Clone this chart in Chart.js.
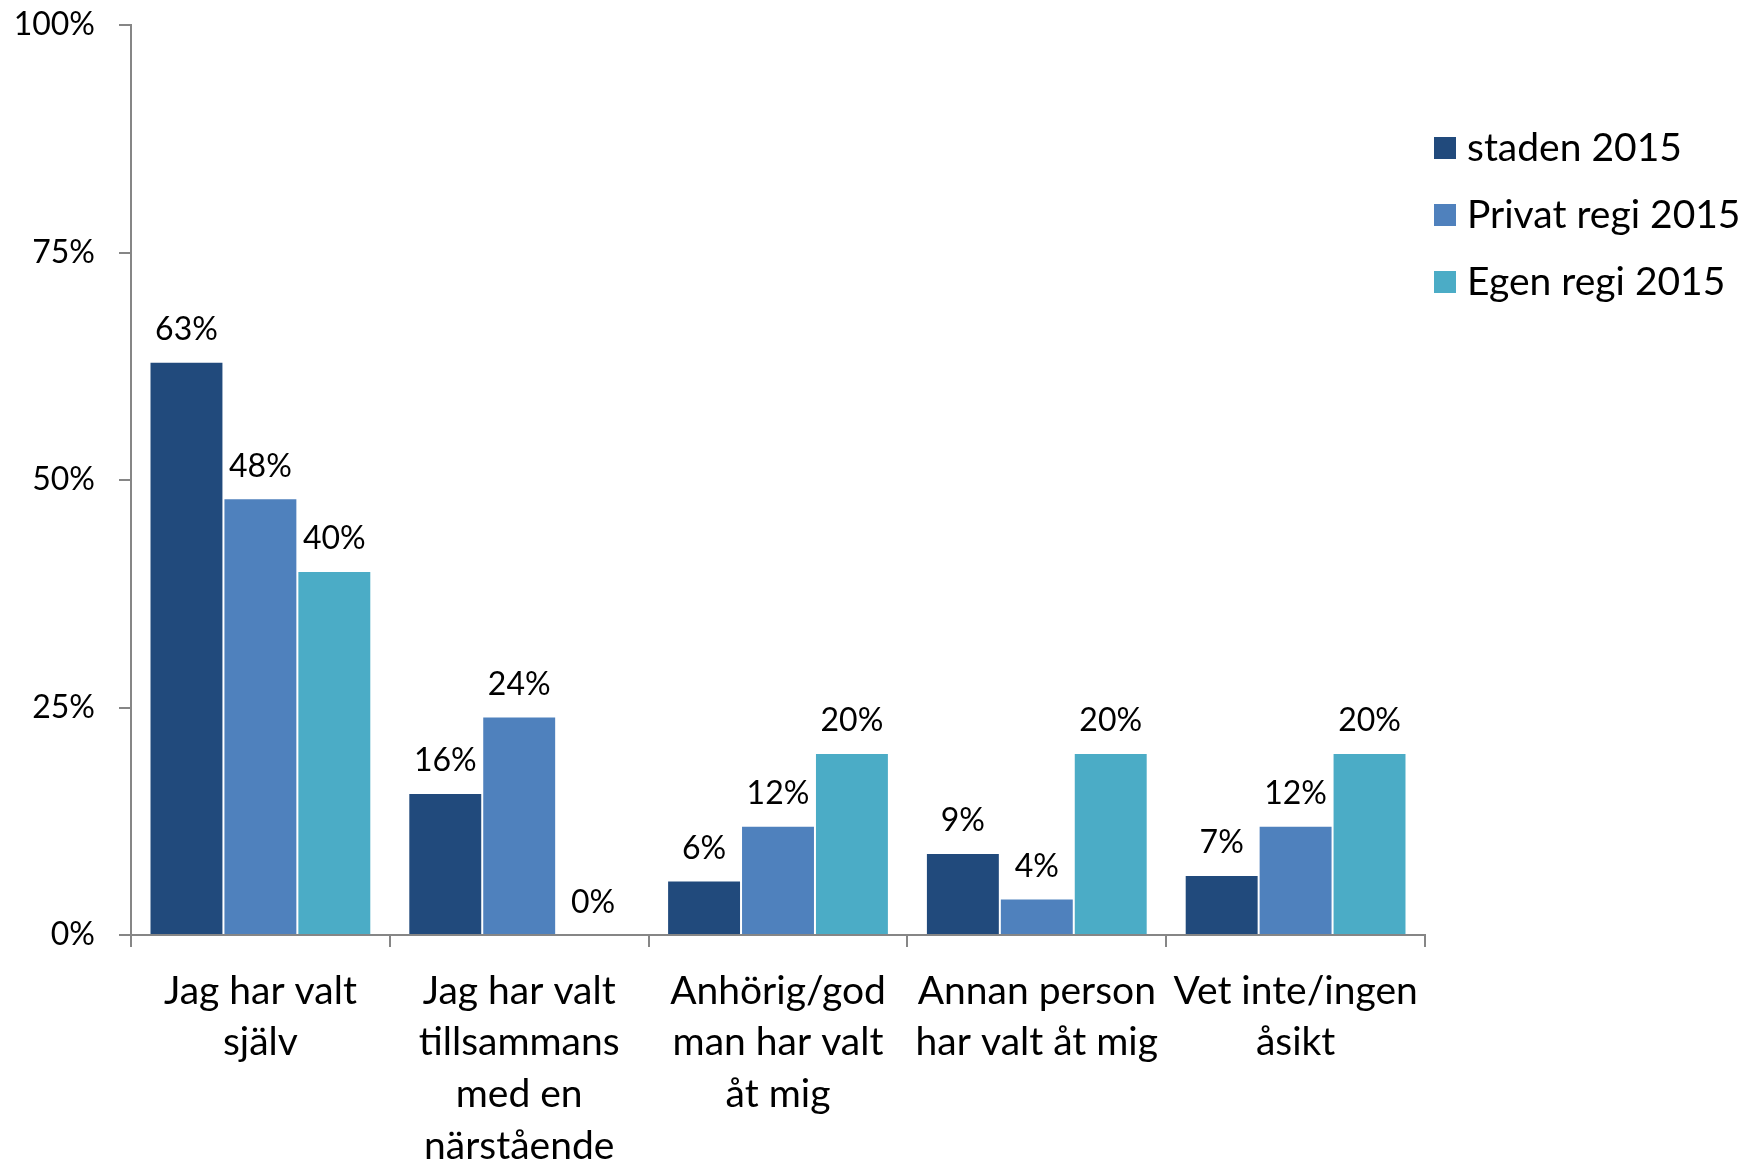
<!DOCTYPE html>
<html lang="sv">
<head>
    <meta charset="UTF-8">
    <title>Val av utförare 2015</title>
    <script src="https://cdnjs.cloudflare.com/ajax/libs/chart.js/4.4.1/chart.umd.min.js"></script>
    <style>
        html, body {
            margin: 0;
            padding: 0;
            background: #ffffff;
        }

        .canvas-container {
            position: relative;
            width: 1756px;
            height: 1164px;
        }
    </style>
</head>
<body>
    <div class="canvas-container">
        <canvas id="valChart"></canvas>
    </div>

    <script>
        // Kategorier (flerradiga etiketter under x-axeln)
        const categories = [
            ['Jag har valt', 'själv'],
            ['Jag har valt', 'tillsammans', 'med en', 'närstående'],
            ['Anhörig/god', 'man har valt', 'åt mig'],
            ['Annan person', 'har valt åt mig'],
            ['Vet inte/ingen', 'åsikt']
        ];

        const seriesNames = ['staden 2015', 'Privat regi 2015', 'Egen regi 2015'];

        // Andelar i procent
        const staden = [63, 15.6, 6, 9, 6.6];
        const privatRegi = [48, 24, 12, 4, 12];
        const egenRegi = [40, 0, 20, 20, 20];

        const yTicks = [0, 25, 50, 75, 100];

        const colors = ['#214a7c', '#4f81bd', '#4bacc6'];
        const FONT = 'Lato, sans-serif';
        const NUM_SIZE = 32;   // siffror: axel och stapeletiketter
        const TEXT_SIZE = 39;  // kategorier och förklaring

        // Procentetiketter ovanför staplarna
        const valueLabels = {
            id: 'valueLabels',
            afterDatasetsDraw(chart) {
                const ctx = chart.ctx;
                ctx.save();
                ctx.font = NUM_SIZE + 'px ' + FONT;
                ctx.fillStyle = '#000000';
                ctx.textAlign = 'center';
                ctx.textBaseline = 'middle';
                chart.data.datasets.forEach((ds, i) => {
                    const meta = chart.getDatasetMeta(i);
                    meta.data.forEach((bar, j) => {
                        ctx.fillText(Math.round(ds.data[j]) + '%', bar.x, bar.y - 32);
                    });
                });
                ctx.restore();
            }
        };

        // Förklaring till höger om diagramytan
        const sideLegend = {
            id: 'sideLegend',
            afterDraw(chart) {
                const ctx = chart.ctx;
                const area = chart.chartArea;
                const x = area.right + 9;
                ctx.save();
                ctx.font = TEXT_SIZE + 'px ' + FONT;
                ctx.textBaseline = 'middle';
                ctx.textAlign = 'left';
                chart.data.datasets.forEach((ds, i) => {
                    const y = area.top + 123 + i * 67;
                    ctx.fillStyle = ds.backgroundColor;
                    ctx.fillRect(x, y - 11, 22, 22);
                    ctx.fillStyle = '#000000';
                    ctx.fillText(ds.label, x + 33, y);
                });
                ctx.restore();
            }
        };

        const ctx = document.getElementById('valChart').getContext('2d');
        new Chart(ctx, {
            type: 'bar',
            data: {
                labels: categories,
                datasets: [staden, privatRegi, egenRegi].map((values, i) => ({
                    label: seriesNames[i],
                    data: values,
                    backgroundColor: colors[i],
                    borderColor: 'rgba(255, 255, 255, 0.35)',
                    borderWidth: 1,
                    categoryPercentage: 0.857,
                    barPercentage: 1.0
                }))
            },
            options: {
                responsive: true,
                maintainAspectRatio: false,
                animation: false,
                layout: {
                    padding: { top: 25, right: 331, left: 0, bottom: 0 }
                },
                plugins: {
                    legend: { display: false },
                    tooltip: { enabled: false }
                },
                scales: {
                    x: {
                        offset: true,
                        border: { color: '#868686', width: 2 },
                        grid: {
                            offset: true,
                            drawOnChartArea: false,
                            drawTicks: true,
                            tickLength: 12,
                            color: '#868686',
                            lineWidth: 2
                        },
                        ticks: {
                            color: '#000000',
                            maxRotation: 0,
                            autoSkip: false,
                            padding: 18,
                            font: { family: FONT, size: TEXT_SIZE, lineHeight: 1.33 }
                        },
                        afterFit(scale) {
                            scale.height = 229;
                        }
                    },
                    y: {
                        min: 0,
                        max: 100,
                        border: { color: '#868686', width: 2 },
                        grid: {
                            drawOnChartArea: false,
                            tickLength: 12,
                            color: '#868686',
                            lineWidth: 2
                        },
                        afterBuildTicks(scale) {
                            scale.ticks = yTicks.map(v => ({ value: v }));
                        },
                        ticks: {
                            color: '#000000',
                            padding: 24,
                            font: { family: FONT, size: NUM_SIZE },
                            callback: value => value + '%'
                        },
                        afterFit(scale) {
                            scale.width = 131;
                            scale.paddingTop = 0;
                            scale.paddingBottom = 0;
                        }
                    }
                }
            },
            plugins: [valueLabels, sideLegend]
        });
    </script>
</body>
</html>
